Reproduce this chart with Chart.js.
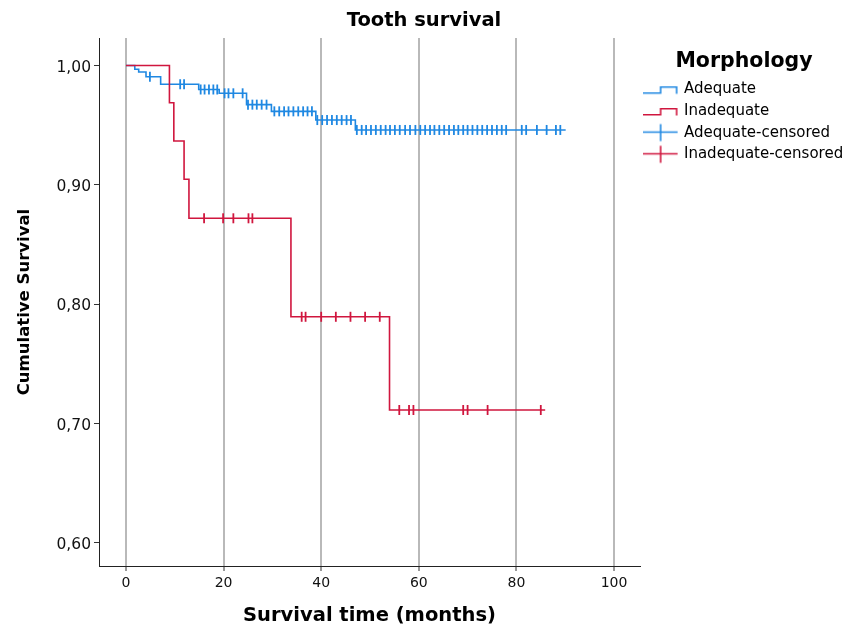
<!DOCTYPE html>
<html>
<head>
<meta charset="utf-8">
<script src="https://cdn.jsdelivr.net/npm/chart.js@4.4.1/dist/chart.umd.min.js"></script>
<style>
  html, body { margin: 0; padding: 0; background: #ffffff; }
  #wrap { width: 848px; height: 628px; }
</style>
</head>
<body>
<div id="wrap"><canvas id="c" width="848" height="628"></canvas></div>
<script>
// ---------- data ----------
const chartTitle = "Tooth survival";
const xTitle = "Survival time (months)";
const yTitle = "Cumulative Survival";
const legendTitle = "Morphology";
const seriesNames = ["Adequate", "Inadequate", "Adequate-censored", "Inadequate-censored"];

const xTicks = [0, 20, 40, 60, 80, 100];
const yTicks = [0.6, 0.7, 0.8, 0.9, 1.0];

// Kaplan-Meier step curves: time at which the level starts, and the level
const adequateTimes = [0, 1.8, 2.6, 4.1, 7.1, 14.9, 19.1, 24.7, 29.8, 38.9, 47.0, 90.1];
const adequateSurv  = [1.000, 0.9968, 0.9946, 0.9906, 0.9843, 0.9799, 0.9767, 0.9672, 0.9616, 0.9543, 0.9460, 0.9460];

const inadequateTimes = [0, 8.9, 9.8, 11.9, 12.9, 33.8, 54.0, 85.9];
const inadequateSurv  = [1.000, 0.9688, 0.9368, 0.9047, 0.8720, 0.7895, 0.7114, 0.7114];

// censored observations (months)
const adequateCensored = [4.9, 11.1, 11.9, 15.3, 16.1, 17.0, 17.9, 18.7, 20.2, 21.0, 22.0, 23.9,
  25.0, 25.9, 26.8, 27.8, 28.8, 30.4, 31.4, 32.4, 33.3, 34.3, 35.3, 36.3, 37.2, 38.1,
  39.2, 40.2, 41.2, 42.2, 43.2, 44.2, 45.2, 46.1,
  47.3, 48.3, 49.2, 50.2, 51.2, 52.2, 53.2, 54.1, 55.1, 56.1, 57.2, 58.2, 59.3, 60.3, 61.3, 62.3,
  63.2, 64.2, 65.2, 66.2, 67.2, 68.1, 69.1, 70.0, 71.0, 72.0, 73.0, 74.0, 75.0, 76.0, 77.0, 77.9,
  81.1, 82.0, 84.2, 86.2, 88.1, 89.0];
const inadequateCensored = [16.0, 19.9, 22.0, 25.1, 25.9,
  36.0, 36.8, 40.0, 43.0, 46.0, 49.0, 52.0,
  56.0, 58.0, 58.9, 69.1, 70.0, 74.1, 85.0];

// ---------- styling ----------
const BLUE = "#1f88e2";
const RED = "#d0163e";
const FONT = "'DejaVu Sans', sans-serif";

function curve(times, surv) { return times.map((t, i) => ({ x: t, y: surv[i] })); }
function levelAt(times, surv, t) {
  let v = surv[0];
  for (let i = 0; i < times.length; i++) { if (times[i] <= t) v = surv[i]; }
  return v;
}
function censorPoints(cens, times, surv) { return cens.map(t => ({ x: t, y: levelAt(times, surv, t) })); }

// legend symbols
function stepSymbol(color) {
  const c = document.createElement("canvas"); c.width = 38; c.height = 20;
  const g = c.getContext("2d");
  g.strokeStyle = color; g.lineWidth = 1.6;
  g.beginPath();
  g.moveTo(0, 13.8); g.lineTo(18, 13.8); g.lineTo(18, 7.8); g.lineTo(34, 7.8); g.lineTo(34, 14.5);
  g.stroke();
  return c;
}
function censorSymbol(color) {
  const c = document.createElement("canvas"); c.width = 38; c.height = 20;
  const g = c.getContext("2d");
  g.strokeStyle = color; g.lineWidth = 1.6;
  g.beginPath();
  g.moveTo(0, 9.5); g.lineTo(35, 9.5);
  g.moveTo(18, 1.5); g.lineTo(18, 18.5);
  g.stroke();
  return c;
}
const symbols = [stepSymbol(BLUE), stepSymbol(RED), censorSymbol(BLUE), censorSymbol(RED)];

Chart.defaults.font.family = FONT;
Chart.defaults.color = "#111";

new Chart(document.getElementById("c"), {
  type: "line",
  data: {
    datasets: [
      { label: seriesNames[0], data: curve(adequateTimes, adequateSurv), borderColor: BLUE, borderWidth: 1.6,
        stepped: "before", pointRadius: 0, fill: false, order: 2 },
      { label: seriesNames[1], data: curve(inadequateTimes, inadequateSurv), borderColor: RED, borderWidth: 1.6,
        stepped: "before", pointRadius: 0, fill: false, order: 1 },
      { label: seriesNames[2], data: censorPoints(adequateCensored, adequateTimes, adequateSurv), showLine: false,
        pointStyle: "line", rotation: 90, pointRadius: 5, pointHoverRadius: 5, borderColor: BLUE, borderWidth: 1.8, order: 3 },
      { label: seriesNames[3], data: censorPoints(inadequateCensored, inadequateTimes, inadequateSurv), showLine: false,
        pointStyle: "line", rotation: 90, pointRadius: 5, pointHoverRadius: 5, borderColor: RED, borderWidth: 1.8, order: 3 }
    ]
  },
  options: {
    responsive: false,
    animation: false,
    devicePixelRatio: 1,
    layout: { padding: 0 },
    plugins: {
      tooltip: { enabled: false },
      title: {
        display: true, text: chartTitle, color: "#000",
        font: { family: FONT, size: 19.5, weight: "bold" },
        padding: { top: 9, bottom: 5.6 }
      },
      legend: {
        display: true, position: "right", align: "start", maxWidth: 208,
        title: {
          display: true, text: legendTitle, color: "#000",
          font: { family: FONT, size: 20.5, weight: "bold" },
          padding: { top: 51.5, bottom: -1 }
        },
        labels: {
          usePointStyle: true, pointStyleWidth: 29.83, padding: 6.67, color: "#111",
          font: { family: FONT, size: 15 },
          generateLabels: (chart) => chart.data.datasets.map((ds, i) => ({
            text: ds.label, pointStyle: symbols[i], fillStyle: "rgba(0,0,0,0)",
            strokeStyle: "rgba(0,0,0,0)", lineWidth: 0, hidden: false, datasetIndex: i
          }))
        }
      }
    },
    scales: {
      x: {
        type: "linear", min: -5.533, max: 105.33,
        afterBuildTicks: (s) => { s.ticks = xTicks.map(v => ({ value: v })); },
        afterFit: (s) => { s.height = 62; },
        ticks: { font: { family: FONT, size: 14 }, color: "#111", padding: 3.5, maxRotation: 0 },
        grid: { color: "#b9b9b9", lineWidth: 2, tickColor: "#333", tickLength: 5, tickWidth: 1 },
        border: { color: "#222", width: 1 },
        title: { display: true, text: xTitle, color: "#000",
          font: { family: FONT, size: 19.5, weight: "bold" }, padding: { top: 0, bottom: 0 } }
      },
      y: {
        type: "linear", min: 0.58073, max: 1.02304,
        afterBuildTicks: (s) => { s.ticks = yTicks.map(v => ({ value: v })); },
        afterFit: (s) => { s.width = 99; },
        ticks: { font: { family: FONT, size: 15.5 }, color: "#111", padding: 3, labelOffset: 2,
          callback: (v) => Number(v).toFixed(2).replace(".", ",") },
        grid: { drawOnChartArea: false, drawTicks: true, tickLength: 5, tickColor: "#333" },
        border: { color: "#222", width: 1 },
        title: { display: true, text: yTitle, color: "#000",
          font: { family: FONT, size: 16.5, weight: "bold" }, padding: { top: 15, bottom: 0 } }
      }
    }
  }
});
</script>
</body>
</html>
